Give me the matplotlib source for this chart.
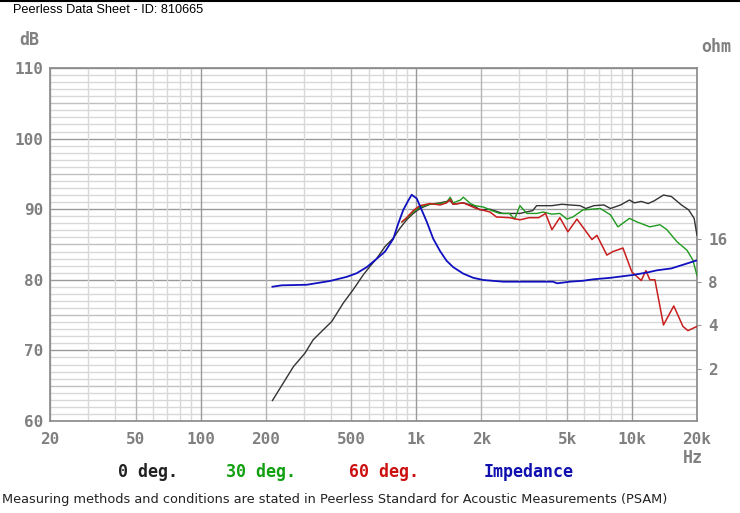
import numpy as np
import matplotlib.pyplot as plt
from matplotlib.lines import Line2D

# 0 deg. on-axis response (Hz, dB)
freq_0 = [215, 269, 304, 332, 405, 458, 509, 567, 609, 654, 715, 781, 839, 901, 967,
          1038, 1156, 1288, 1435, 1480, 1650, 1870, 1970, 2195, 2510, 3020, 3460, 3610,
          4250, 4730, 5150, 5740, 6100, 6650, 7400, 7940, 8845, 9720, 10250, 11030,
          11880, 12680, 13980, 15210, 16940, 18300, 19400, 20000]
spl_0 = [62.9, 67.7, 69.6, 71.5, 74.1, 76.7, 78.6, 80.7, 81.9, 83.0, 84.7, 85.9, 87.3, 88.5, 89.4,
         90.1, 90.7, 90.9, 91.2, 90.7, 90.9, 90.4, 89.9, 90.0, 89.4, 89.4, 89.8, 90.5,
         90.5, 90.7, 90.6, 90.5, 90.1, 90.5, 90.6, 90.1, 90.6, 91.3, 90.9, 91.1,
         90.8, 91.2, 92.0, 91.8, 90.6, 89.9, 88.7, 86.3]

# 30 deg.
freq_30 = [857, 901, 967, 1038, 1156, 1288, 1380, 1435, 1480, 1600, 1650, 1780, 1870, 2050,
           2195, 2430, 2700, 2850, 3020, 3250, 3610, 3870, 4250, 4625, 4986, 5317, 5916,
           7125, 7940, 8596, 9720, 10530, 12090, 13460, 14500, 16140, 17960, 19140, 20000]
spl_30 = [88.2, 88.7, 89.6, 90.3, 90.7, 90.8, 91.0, 91.7, 90.9, 91.3, 91.7, 90.8, 90.5, 90.3,
          89.9, 89.4, 89.4, 88.6, 90.5, 89.4, 89.4, 89.6, 89.3, 89.4, 88.6, 88.9, 89.9,
          90.1, 89.2, 87.5, 88.7, 88.2, 87.5, 87.8, 87.1, 85.4, 84.2, 82.8, 80.6]

# 60 deg.
freq_60 = [857, 901, 967, 1038, 1156, 1288, 1380, 1435, 1480, 1650, 1895, 2195, 2350, 2700,
           3020, 3330, 3690, 3970, 4250, 4625, 5040, 5550, 6515, 6870, 7640, 8150, 9070,
           9980, 11030, 11590, 12090, 12760, 13980, 15610, 17210, 18160, 20000]
spl_60 = [88.2, 88.8, 89.8, 90.5, 90.8, 90.6, 90.9, 91.4, 90.7, 90.9, 90.1, 89.6, 88.9, 88.8,
          88.5, 88.8, 88.8, 89.4, 87.1, 88.8, 86.8, 88.6, 85.7, 86.3, 83.5, 84.0, 84.5,
          81.1, 79.9, 81.3, 80.0, 80.0, 73.6, 76.3, 73.4, 72.8, 73.4]

# Impedance (Hz, ohm)
freq_imp = [215, 237, 310, 397, 475, 528, 588, 642, 715, 781, 824, 869, 917, 951, 1003,
            1058, 1115, 1197, 1288, 1381, 1482, 1648, 1835, 2042, 2527, 4295, 4495, 5153,
            5918, 6580, 7940, 10090, 11880, 13030, 15210, 17210, 20000]
imp_ohm = [7.45, 7.62, 7.69, 8.17, 8.73, 9.25, 10.2, 11.4, 13.1, 16.1, 20.6, 25.6, 29.8, 32.7, 30.8,
           25.6, 21.3, 16.1, 13.2, 11.3, 10.2, 9.2, 8.6, 8.3, 8.08, 8.08, 7.87, 8.08,
           8.2, 8.39, 8.6, 9.0, 9.4, 9.7, 10.0, 10.6, 11.4]

x_ticks = [20, 50, 100, 200, 500, 1000, 2000, 5000, 10000, 20000]
x_labels = ["20", "50", "100", "200", "500", "1k", "2k", "5k", "10k", "20k"]
db_ticks = [60, 70, 80, 90, 100, 110]
ohm_ticks = [2, 4, 8, 16]

grey = "#808080"
tickfont = dict(family="DejaVu Sans Mono", weight="bold", size=11.5, color=grey)

fig = plt.figure(figsize=(7.4, 5.13), dpi=100)
ax = fig.add_axes([50/740, 1-421/513, 647/740, 353/513])
ax.set_xscale("log")
ax.set_xlim(20, 20000)
ax.set_ylim(60, 110)

# grid
for d in range(60, 111):
    if d % 10 == 0:
        c = "#9a9a9a"
    elif d % 5 == 0:
        c = "#c0c0c0"
    else:
        c = "#d8d8d8"
    ax.axhline(d, color=c, lw=1, zorder=0)
for dec in [10, 100, 1000, 10000]:
    for m in range(1, 10):
        f = dec * m
        if f < 20 or f > 20000:
            continue
        if m == 1:
            c = "#9a9a9a"
        elif m in (2, 5):
            c = "#b4b4b4"
        else:
            c = "#d8d8d8"
        ax.axvline(f, color=c, lw=1, zorder=0)

ax.plot(freq_0, spl_0, color="#333333", lw=1.0, zorder=3)
ax.plot(freq_30, spl_30, color="#1f9a1f", lw=1.0, zorder=4)
ax.plot(freq_60, spl_60, color="#c81e1e", lw=1.1, zorder=5)

ax.set_xticks(x_ticks)
ax.set_xticklabels(x_labels, fontdict=tickfont)
ax.xaxis.set_minor_locator(plt.NullLocator())
ax.set_yticks(db_ticks)
ax.set_yticklabels([str(v) for v in db_ticks], fontdict=tickfont)
ax.tick_params(axis="x", length=0, pad=8)
ax.tick_params(axis="y", length=0, pad=5)
for s in ax.spines.values():
    s.set_color("#888888")
    s.set_linewidth(1.2)

ax2 = ax.twinx()
ax2.set_yscale("log")
ax2.set_ylim(0.86, 251)
ax2.plot(freq_imp, imp_ohm, color="#1010c0", lw=1.3, zorder=6)
ax2.set_yticks(ohm_ticks)
ax2.set_yticklabels([str(v) for v in ohm_ticks], fontdict=tickfont)
ax2.yaxis.set_minor_locator(plt.NullLocator())
ax2.tick_params(axis="y", length=3, color="#999999", pad=5)
for s in ax2.spines.values():
    s.set_visible(False)

lab = dict(family="DejaVu Sans Mono", weight="bold", size=12, ha="center", va="center")
fig.text(29/740, 1-40/513, "dB", color=grey, **lab)
fig.text(716/740, 1-47/513, "ohm", color=grey, **lab)
fig.text(693/740, 1-458/513, "Hz", color=grey, **lab)

fig.text(148/740, 1-472/513, "0 deg.", color="#222222", **lab)
fig.text(261/740, 1-472/513, "30 deg.", color="#10a010", **lab)
fig.text(384/740, 1-472/513, "60 deg.", color="#cc1010", **lab)
fig.text(529/740, 1-472/513, "Impedance", color="#1010b0", **lab)

fig.text(13/740, 1-10/513, "Peerless Data Sheet - ID: 810665", family="Liberation Sans",
         size=9.2, color="black", ha="left", va="center")
fig.text(2/740, 1-500/513,
         "Measuring methods and conditions are stated in Peerless Standard for Acoustic Measurements (PSAM)",
         family="DejaVu Sans", size=9.3, color="#222222", ha="left", va="center")
fig.add_artist(Line2D([0, 1], [0.999, 0.999], color="black", lw=1.5, transform=fig.transFigure))

fig.savefig("out.png", dpi=100)
